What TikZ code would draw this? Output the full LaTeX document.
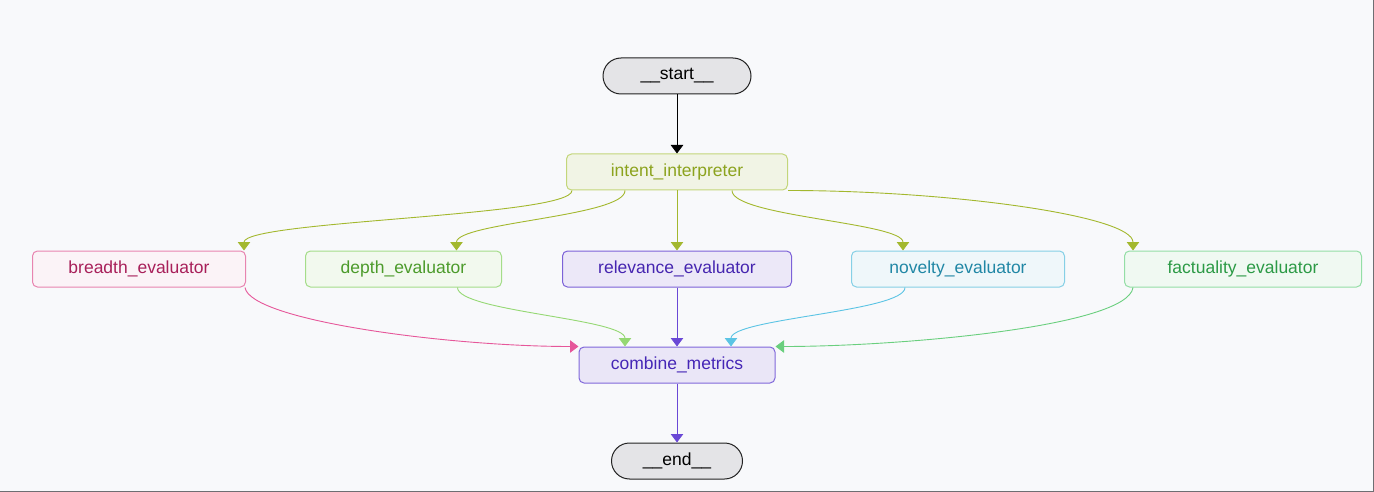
\documentclass[tikz,border=0pt]{standalone}
\usepackage{fontspec}
\setmainfont{Liberation Sans}
\usetikzlibrary{arrows.meta,positioning,calc}
\definecolor{bgPage}{HTML}{F8F9FB}
\definecolor{edgeFrame}{HTML}{6E6E72}
\definecolor{termFill}{HTML}{E4E4E7}
\definecolor{termDraw}{HTML}{222222}
\definecolor{intentFill}{HTML}{F1F4E5}
\definecolor{intentDraw}{HTML}{C3D67A}
\definecolor{intentText}{HTML}{8CA31E}
\definecolor{intentEdge}{HTML}{A3B82E}
\definecolor{breadthFill}{HTML}{FBF3F7}
\definecolor{breadthDraw}{HTML}{E884B0}
\definecolor{breadthText}{HTML}{A8205A}
\definecolor{breadthEdge}{HTML}{E6579A}
\definecolor{depthFill}{HTML}{F2F9EE}
\definecolor{depthDraw}{HTML}{A5DD8A}
\definecolor{depthText}{HTML}{4C9B2B}
\definecolor{depthEdge}{HTML}{95D873}
\definecolor{relFill}{HTML}{ECE8F8}
\definecolor{relDraw}{HTML}{7C62D8}
\definecolor{relText}{HTML}{4626B0}
\definecolor{relEdge}{HTML}{6A48D6}
\definecolor{novFill}{HTML}{EFF7FA}
\definecolor{novDraw}{HTML}{86D0E6}
\definecolor{novText}{HTML}{2187A5}
\definecolor{novEdge}{HTML}{5BC4E4}
\definecolor{factFill}{HTML}{F0F9F2}
\definecolor{factDraw}{HTML}{94DEA6}
\definecolor{factText}{HTML}{2C9A46}
\definecolor{factEdge}{HTML}{6ACF7E}
\definecolor{combFill}{HTML}{EAE6F7}
\definecolor{combDraw}{HTML}{8068DA}
\definecolor{combText}{HTML}{4526B6}
\tikzset{
  stagebox/.style={rounded corners=5pt, line width=1pt, align=center, minimum height=36pt,
                   inner sep=4pt, font=\fontsize{17.5}{20}\selectfont},
  termbox/.style={stagebox, rounded corners=18pt, draw=termDraw, fill=termFill},
  intentbox/.style={stagebox, draw=intentDraw, fill=intentFill, text=intentText},
  breadthbox/.style={stagebox, draw=breadthDraw, fill=breadthFill, text=breadthText},
  depthbox/.style={stagebox, draw=depthDraw, fill=depthFill, text=depthText},
  relbox/.style={stagebox, draw=relDraw, fill=relFill, text=relText},
  novbox/.style={stagebox, draw=novDraw, fill=novFill, text=novText},
  factbox/.style={stagebox, draw=factDraw, fill=factFill, text=factText},
  combbox/.style={stagebox, draw=combDraw, fill=combFill, text=combText},
  flow/.style={-{Triangle[length=8.5pt,width=12.5pt]}, line width=0.9pt}
}
\begin{document}
\begin{tikzpicture}[x=1pt, y=1pt, node distance=59pt]
\useasboundingbox (0,0) rectangle (1374,-492);
\fill[bgPage] (0,0) rectangle (1374,-492);
\draw[edgeFrame, line width=1.5pt] (1373.25,0) |- (0,-491.25);
% nodes
\node[termbox, minimum width=148pt] (start) at (677,-76) {\_\_start\_\_};
\node[intentbox, minimum width=221pt, below=59pt of start] (intent) {intent\_interpreter};
\node[relbox, minimum width=229pt, below=60pt of intent] (relevance) {relevance\_evaluator};
\node[depthbox, minimum width=196pt, left=60pt of relevance] (depth) {depth\_evaluator};
\node[breadthbox, minimum width=213pt, left=59pt of depth] (breadth) {breadth\_evaluator};
\node[novbox, minimum width=213pt, right=59pt of relevance] (novelty) {novelty\_evaluator};
\node[factbox, minimum width=237pt, right=59pt of novelty] (factuality) {factuality\_evaluator};
\node[combbox, minimum width=196pt, below=59pt of relevance] (combine) {combine\_metrics};
\node[termbox, minimum width=131pt, below=59pt of combine] (end) {\_\_end\_\_};
% edges
\draw[flow, draw=black] (start) -- (intent);
\draw[flow, draw=intentEdge] ($(intent.south)+(-105,0)$) .. controls +(0,-26) and ($(breadth.north)+(105,30)$) .. ($(breadth.north)+(105,0)$);
\draw[flow, draw=intentEdge] ($(intent.south)+(-52,0)$) .. controls +(0,-26) and ($(depth.north)+(53,28)$) .. ($(depth.north)+(53,0)$);
\draw[flow, draw=intentEdge] (intent) -- (relevance);
\draw[flow, draw=intentEdge] ($(intent.south)+(55,0)$) .. controls +(0,-26) and ($(novelty.north)+(-55,28)$) .. ($(novelty.north)+(-55,0)$);
\draw[flow, draw=intentEdge] (intent.south east) .. controls +(160,0) and ($(factuality.north)+(-110,35)$) .. ($(factuality.north)+(-110,0)$);
\draw[flow, draw=breadthEdge] ($(breadth.south east)+(-1,0)$) .. controls +(5,-33) and ($(combine.north west)+(-130,0)$) .. (combine.north west);
\draw[flow, draw=depthEdge] ($(depth.south)+(54,0)$) .. controls +(0,-24) and ($(combine.north)+(-52,28)$) .. ($(combine.north)+(-52,0)$);
\draw[flow, draw=relEdge] (relevance) -- (combine);
\draw[flow, draw=novEdge] ($(novelty.south)+(-53,0)$) .. controls +(0,-24) and ($(combine.north)+(54,28)$) .. ($(combine.north)+(54,0)$);
\draw[flow, draw=factEdge] ($(factuality.south)+(-110,0)$) .. controls +(-5,-39) and ($(combine.north east)+(125,0)$) .. (combine.north east);
\draw[flow, draw=relEdge] (combine) -- (end);
\end{tikzpicture}
\end{document}
